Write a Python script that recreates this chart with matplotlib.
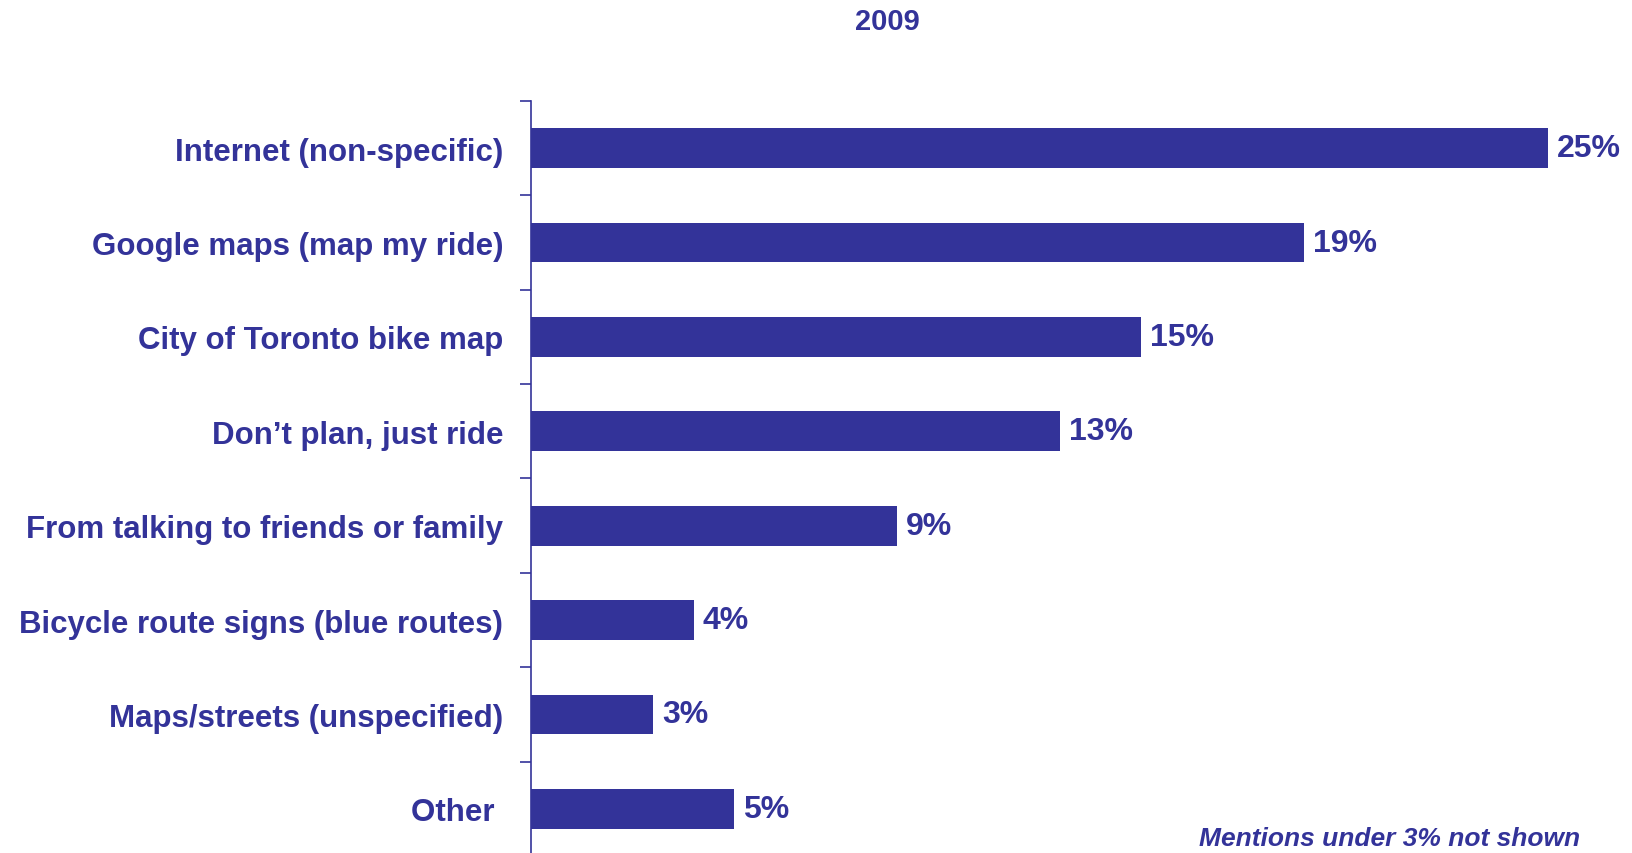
import matplotlib.pyplot as plt

# survey answers, top to bottom
sources = ["Internet (non-specific)",
           "Google maps (map my ride)",
           "City of Toronto bike map",
           "Don\u2019t plan, just ride",
           "From talking to friends or family",
           "Bicycle route signs (blue routes)",
           "Maps/streets (unspecified)",
           "Other "]
pct = [25, 19, 15, 13, 9, 4, 3, 5]
year = "2009"
note = "Mentions under 3% not shown"

navy = "#333399"
plt.rcParams["font.family"] = ["Liberation Sans", "DejaVu Sans"]

W, H = 1633, 854
fig = plt.figure(figsize=(W/100, H/100), dpi=100)
fig.patch.set_facecolor("white")

# axes box in pixels: left edge at the spine, bottom running off the canvas
x0, x1 = 531, 1589
y_top, y_bot = 102, 857
ax = fig.add_axes([x0/W, 1 - y_bot/H, (x1 - x0)/W, (y_bot - y_top)/H])

n = len(sources)
pos = list(range(n))
ax.barh(pos, pct, height=0.42, color=navy, edgecolor="none")
ax.set_ylim(n - 0.5, -0.5)
ax.set_xlim(0, 26)

for p, v in zip(pos, pct):
    ax.annotate(f"{v}%", xy=(v, p), xytext=(6.5, 0), textcoords="offset points",
                ha="left", va="center", fontsize=23, fontweight="bold", color=navy)

# category labels between the boundary ticks
ax.set_yticks(pos)
ax.set_yticklabels(sources, fontsize=22.5, fontweight="bold", color=navy)
ax.tick_params(axis="y", which="major", length=0, pad=20)
ax.set_yticks([i - 0.5 for i in range(n + 1)], minor=True)
ax.tick_params(axis="y", which="minor", length=8, width=1.2, color=navy)

ax.set_xticks([])
for s in ["top", "right", "bottom"]:
    ax.spines[s].set_visible(False)
ax.spines["left"].set_color(navy)
ax.spines["left"].set_linewidth(1.2)

fig.text(887/W, 1 - 22/H, year, ha="center", va="center",
         fontsize=21, fontweight="bold", color=navy)
fig.text(1580/W, 1 - 839/H, note, ha="right", va="center",
         fontsize=19, fontweight="bold", style="italic", color=navy)

fig.savefig("out.png", dpi=100, facecolor="white")
